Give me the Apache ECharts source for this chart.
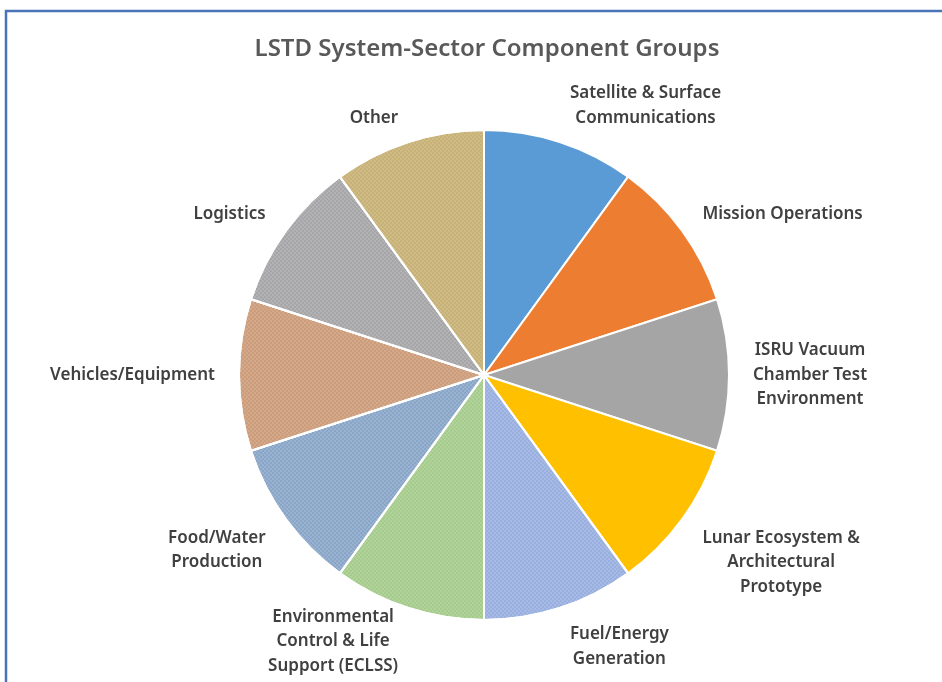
<!DOCTYPE html>
<html>
<head>
<meta charset="utf-8">
<script src="https://cdn.jsdelivr.net/npm/echarts@6/dist/echarts.min.js"></script>
<style>
  html, body { margin: 0; padding: 0; background: #ffffff; }
  #chart { width: 942px; height: 682px; }
</style>
</head>
<body>
<div id="chart"></div>
<script>
const titleText = 'LSTD System-Sector Component Groups';
const categories = [
  'Satellite & Surface\nCommunications',
  'Mission Operations',
  'ISRU Vacuum\nChamber Test\nEnvironment',
  'Lunar Ecosystem &\nArchitectural\nPrototype',
  'Fuel/Energy\nGeneration',
  'Environmental\nControl & Life\nSupport (ECLSS)',
  'Food/Water\nProduction',
  'Vehicles/Equipment',
  'Logistics',
  'Other'
];
const values = [1, 1, 1, 1, 1, 1, 1, 1, 1, 1];
const colors = ['#5b9bd5', '#ed7d31', '#a5a5a5', '#ffc000', '#98afe0', '#a5cc8c', '#89a6c9', '#cd9c7a', '#a6a6a8', '#c7b174'];
const patterned = [false, false, false, false, true, true, true, true, true, true];

const chart = echarts.init(document.getElementById('chart'), null, { renderer: 'canvas' });

const dotDecal = {
  symbol: 'circle',
  symbolSize: 0.7,
  dashArrayX: [[2, 2], [0, 2, 2, 0]],
  dashArrayY: [2, 0],
  color: 'rgba(255,255,255,0.38)',
  rotation: 0
};

const pieData = categories.map((name, i) => {
  const item = { name: name, value: values[i], itemStyle: { color: colors[i] } };
  if (patterned[i]) item.itemStyle.decal = dotDecal;
  return item;
});

const GAP = 20;
const K = 4;
const HX = 4;
const VY = 5;

chart.setOption({
  backgroundColor: '#ffffff',
  animation: false,
  title: {
    text: titleText,
    left: 482,
    textAlign: 'center',
    top: 32,
    textStyle: { fontFamily: 'Noto Sans', fontSize: 24, fontWeight: 600, color: '#595959' }
  },
  graphic: [{
    type: 'rect',
    shape: { x: 6, y: 11, width: 1000, height: 1000 },
    style: { fill: 'none', stroke: '#4a74b8', lineWidth: 2.5 },
    silent: true,
    z: 100
  }],
  series: [{
    type: 'pie',
    center: [484, 375],
    radius: 245,
    startAngle: 90,
    clockwise: true,
    avoidLabelOverlap: false,
    data: pieData,
    itemStyle: { borderColor: '#ffffff', borderWidth: 2 },
    label: {
      show: true,
      position: 'outside',
      formatter: '{b}',
      fontFamily: 'Noto Sans',
      fontSize: 17,
      fontWeight: 600,
      color: '#404040',
      lineHeight: 24.5,
      align: 'center'
    },
    labelLine: { show: false },
    emphasis: { disabled: true },
    labelLayout: function (p) {
      let lay = null;
      try {
        lay = chart.getModel().getSeriesByIndex(0).getData().getItemLayout(p.dataIndex);
      } catch (e) { lay = null; }
      if (!lay) return {};
      const mid = (lay.startAngle + lay.endAngle) / 2;
      const R = lay.r + GAP;
      const c = Math.cos(mid), s = Math.sin(mid);
      const px = lay.cx + R * c, py = lay.cy + R * s;
      const w = p.labelRect.width, h = p.labelRect.height;
      const kc = Math.max(-1, Math.min(1, c * K));
      const ks = Math.max(-1, Math.min(1, s * K));
      let x = px + kc * (w / 2 + HX);
      let y = py + ks * (h / 2 - (s < 0 ? 7 : VY));
      const maxY = chart.getHeight() - 4 - h / 2;
      if (y > maxY) y = maxY;
      return { x: x, y: y, align: 'center', verticalAlign: 'middle' };
    }
  }]
});
</script>
</body>
</html>
